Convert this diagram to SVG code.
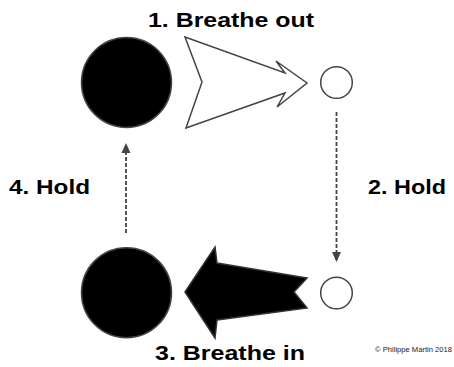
<svg xmlns="http://www.w3.org/2000/svg" width="454" height="367" viewBox="0 0 454 367">
<style>
.lbl{font-family:"Liberation Sans",Arial,sans-serif;font-weight:bold;font-size:21px;fill:#000}
.big{fill:#000;stroke:#444;stroke-width:1.5}
.small{fill:#fff;stroke:#444;stroke-width:1.5}
.dash{stroke:#444;stroke-width:1.8;stroke-dasharray:4 2;fill:none}
.copy{font-family:"Liberation Sans",Arial,sans-serif;font-size:7.5px;fill:#222}
</style>
<defs>
<marker id="ah" markerUnits="userSpaceOnUse" markerWidth="10" markerHeight="10" refX="10" refY="5" orient="auto">
<path d="M0,0.5 L10,5 L0,9.5 z" fill="#444"/>
</marker>
</defs>
<g id="node-top-big"><circle class="big" cx="126.5" cy="82.5" r="45"/></g>
<g id="node-top-small"><circle class="small" cx="336.5" cy="82.5" r="15.8"/></g>
<g id="node-bottom-big"><circle class="big" cx="126.5" cy="292.7" r="45"/></g>
<g id="node-bottom-small"><circle class="small" cx="336.5" cy="293" r="15.8"/></g>
<g id="connectors">
<polygon id="breathe-out" points="185,37 285,73 276,61 307,83 277,107 285,93 186,128 202,82" fill="#fff" stroke="#444" stroke-width="1.5" stroke-linejoin="miter"/>
<polygon id="breathe-in" points="185,292 215,247 217,263 307,278 294,292 307,308 217,320 215,338" fill="#000" stroke="#333" stroke-width="1.5"/>
<line class="dash" x1="336.5" y1="112" x2="336.5" y2="262" marker-end="url(#ah)"/>
<line class="dash" x1="126" y1="233" x2="126" y2="143" marker-end="url(#ah)"/>
</g>
<g id="labels">
<text class="lbl" x="148" y="27" textLength="166" lengthAdjust="spacingAndGlyphs">1. Breathe out</text>
<text class="lbl" x="368" y="194" textLength="78" lengthAdjust="spacingAndGlyphs">2. Hold</text>
<text class="lbl" x="155" y="360" textLength="150" lengthAdjust="spacingAndGlyphs">3. Breathe in</text>
<text class="lbl" x="9" y="194" textLength="81" lengthAdjust="spacingAndGlyphs">4. Hold</text>
<text class="copy" x="375" y="352" textLength="77" lengthAdjust="spacingAndGlyphs">© Philippe Martin 2018</text>
</g>
</svg>
